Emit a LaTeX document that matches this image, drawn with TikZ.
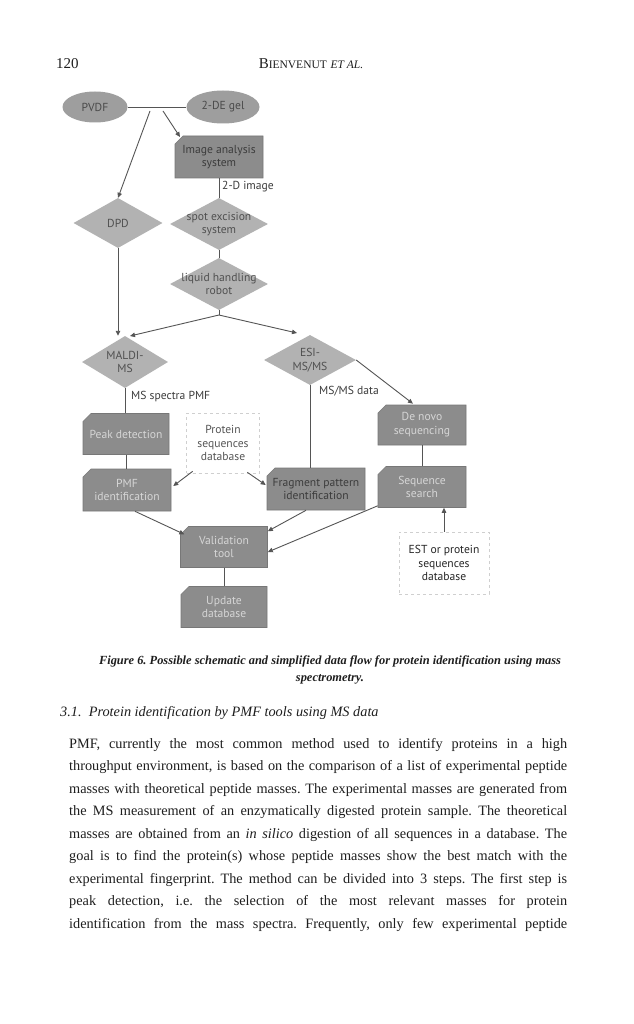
\documentclass[tikz,border=0pt]{standalone}
\usepackage{fontspec}
\setmainfont{Liberation Serif}
\newfontfamily\diag{PT Sans}
\usetikzlibrary{shapes.geometric,shapes.misc,arrows.meta}
\definecolor{ellfill}{HTML}{9E9E9E}
\definecolor{elltext}{HTML}{4A4A4A}
\definecolor{diafill}{HTML}{B2B2B2}
\definecolor{diatext}{HTML}{505050}
\definecolor{boxfill}{HTML}{8C8C8C}
\definecolor{boxedge}{HTML}{777777}
\definecolor{boxlight}{HTML}{D6D6D6}
\definecolor{boxdark}{HTML}{3C3C3C}
\definecolor{linec}{HTML}{555555}
\definecolor{dbedge}{HTML}{CFCFCF}
\definecolor{dbtext}{HTML}{555555}
\definecolor{esttext}{HTML}{262626}
\definecolor{inktext}{HTML}{1E1E1E}
\frenchspacing
\begin{document}
\begin{tikzpicture}[x=1pt,y=-1pt,
  dfont/.style={font=\diag\fontsize{11.6}{13.8}\selectfont},
  ln/.style={draw=linec, line width=0.9pt},
  arr/.style={ln, -{Triangle[length=5pt,width=4.5pt]}},
  ell/.style={ellipse, fill=ellfill, draw=none, inner sep=0pt, dfont, text=elltext},
  dia/.style={diamond, fill=diafill, draw=none, inner sep=-14pt, align=center, dfont, text=diatext},
  boxbase/.style={chamfered rectangle, chamfered rectangle corners=north west,
    chamfered rectangle xsep=4pt, chamfered rectangle ysep=4pt,
    fill=boxfill, draw=boxedge, line width=0.6pt, inner sep=0pt, align=center, dfont},
  boxl/.style={boxbase, text=boxlight},
  boxd/.style={boxbase, text=boxdark},
  db/.style={rectangle, fill=white, draw=dbedge, dashed, line width=0.6pt, inner sep=1pt, align=center, dfont, text=dbtext},
  lbl/.style={dfont, text=boxdark, inner sep=0pt},
  body/.style={font=\fontsize{14.3}{22.5}\selectfont, text=inktext, inner sep=0pt, anchor=base west},
  capt/.style={anchor=base, font=\bfseries\itshape\fontsize{12.4}{16}\selectfont, text=inktext, inner sep=0pt}
]
\useasboundingbox (0,0) rectangle (633,1024);
\fill[white] (0,0) rectangle (633,1024);

% ---------- running head ----------
\node[anchor=base west, font=\fontsize{15}{18}\selectfont, text=inktext, inner sep=0pt] (pgno) at (56,69) {120};
\node[anchor=base, font=\fontsize{15}{18}\selectfont, text=inktext, inner sep=0pt] (runhead) at (311,69)
  {B{\fontsize{11.5}{12}\selectfont IENVENUT} {\itshape\fontsize{11.5}{12}\selectfont ET AL.}};

% ---------- diagram nodes ----------
\node[ell, minimum width=65pt, minimum height=31pt] (pvdf) at (95,107) {PVDF};
\node[ell, minimum width=73pt, minimum height=33pt] (gel) at (223,107) {2-DE gel};
\node[boxd, minimum width=88pt, minimum height=42pt] (img) at (219,157) {Image analysis\\system};
\node[dia, minimum width=98pt, minimum height=52pt] (spot) at (219,224) {spot excision\\system};
\node[dia, minimum width=98pt, minimum height=52pt] (liq) at (219,284) {liquid handling\\robot};
\node[dia, minimum width=89pt, minimum height=50pt] (dpd) at (118,223) {DPD};
\node[dia, minimum width=86pt, minimum height=52pt] (maldi) at (125,362) {MALDI-\\MS};
\node[dia, minimum width=92pt, minimum height=50pt] (esi) at (310,360) {ESI-\\MS/MS};
\node[boxl, minimum width=86pt, minimum height=41pt] (peak) at (126,434) {Peak detection};
\node[boxl, minimum width=88pt, minimum height=42pt] (pmf) at (127,490) {PMF\\identification};
\node[db, minimum width=73pt, minimum height=60pt] (db1) at (223,443) {Protein\\sequences\\database};
\node[boxd, minimum width=98pt, minimum height=42pt] (frag) at (316,489) {Fragment pattern\\identification};
\node[boxl, minimum width=88pt, minimum height=40pt] (denovo) at (422,425) {De novo\\sequencing};
\node[boxl, minimum width=88pt, minimum height=41pt] (seq) at (422,487) {Sequence\\search};
\node[db, text=esttext, minimum width=90pt, minimum height=62pt] (est) at (444,563) {EST or protein\\sequences\\database};
\node[boxl, minimum width=87pt, minimum height=41pt] (valid) at (224,547) {Validation\\tool};
\node[boxl, minimum width=86pt, minimum height=41pt] (upd) at (224,607) {Update\\database};

% labels
\node[lbl, anchor=west] (l2d) at (222,187) {2-D image};
\node[lbl, anchor=west] (lms) at (131,397) {MS spectra PMF};
\node[lbl, anchor=west] (lmsms) at (319,391) {MS/MS data};

% ---------- connector coordinates ----------
\coordinate (j1) at (150,111);
\coordinate (j2) at (163,111);
\coordinate (imgtip) at (180,137);
\coordinate (br) at (219,315);
\coordinate (tipM) at (130,336);
\coordinate (tipE) at (297,333);

% ---------- connectors ----------
\draw[ln] (pvdf.east) -- (gel.west);
\draw[arr] (j1) -- (dpd.north);
\draw[arr] (j2) -- (imgtip);
\draw[ln] (img.south) -- (spot.north);
\draw[ln] (spot.south) -- (liq.north);
\draw[ln] (liq.south) -- (br);
\draw[arr] (br) -- (tipM);
\draw[arr] (br) -- (tipE);
\draw[arr] (dpd.south) -- (dpd.south |- maldi.north);
\draw[ln] (maldi.south) -- (maldi.south |- peak.north);
\draw[ln] (peak.south) -- (peak.south |- pmf.north);
\draw[arr] ([shift={(6.5pt,2pt)}]db1.south west) -- ([shift={(2pt,4pt)}]pmf.east);
\draw[arr] ([shift={(-12.5pt,1pt)}]db1.south east) -- ([shift={(-1pt,4pt)}]frag.west);
\draw[ln] (esi.south) -- (esi.south |- frag.north);
\draw[arr] (esi.east) -- ([shift={(-9pt,1pt)}]denovo.north);
\draw[ln] (denovo.south) -- (seq.north);
\draw[arr] (est.north) -- (est.north |- seq.south);
\draw[arr] ([xshift=8pt]pmf.south) -- ([yshift=-4pt]valid.north west);
\draw[arr] ([xshift=-10pt]frag.south) -- ([yshift=-5pt]valid.north east);
\draw[arr] ([yshift=2pt]seq.south west) -- ([yshift=-5pt]valid.east);
\draw[ln] (valid.south) -- (upd.north);

% ---------- caption ----------
\node[capt] (cap1) at (330,664)
  {Figure 6. Possible schematic and simplified data flow for protein identification using mass};
\node[capt] (cap2) at (330,681) {spectrometry.};

% ---------- section heading ----------
\node[body, font=\itshape\fontsize{14.3}{22.5}\selectfont] (sec) at (60,716)
  {3.1.\ \ Protein identification by PMF tools using MS data};

% ---------- paragraph ----------
\node[body] (p1) at (69,748) {\makebox[498pt][s]{PMF, currently the most common method used to identify proteins in a high}};
\node[body] (p2) at (69,770.5) {\makebox[498pt][s]{throughput environment, is based on the comparison of a list of experimental peptide}};
\node[body] (p3) at (69,793) {\makebox[498pt][s]{masses with theoretical peptide masses. The experimental masses are generated from}};
\node[body] (p4) at (69,815.5) {\makebox[498pt][s]{the MS measurement of an enzymatically digested protein sample. The theoretical}};
\node[body] (p5) at (69,838) {\makebox[498pt][s]{masses are obtained from an \textit{in silico} digestion of all sequences in a database. The}};
\node[body] (p6) at (69,860.5) {\makebox[498pt][s]{goal is to find the protein(s) whose peptide masses show the best match with the}};
\node[body] (p7) at (69,883) {\makebox[498pt][s]{experimental fingerprint. The method can be divided into 3 steps. The first step is}};
\node[body] (p8) at (69,905.5) {\makebox[498pt][s]{peak detection, i.e. the selection of the most relevant masses for protein}};
\node[body] (p9) at (69,928) {\makebox[498pt][s]{identification from the mass spectra. Frequently, only few experimental peptide}};
\end{tikzpicture}
\end{document}
